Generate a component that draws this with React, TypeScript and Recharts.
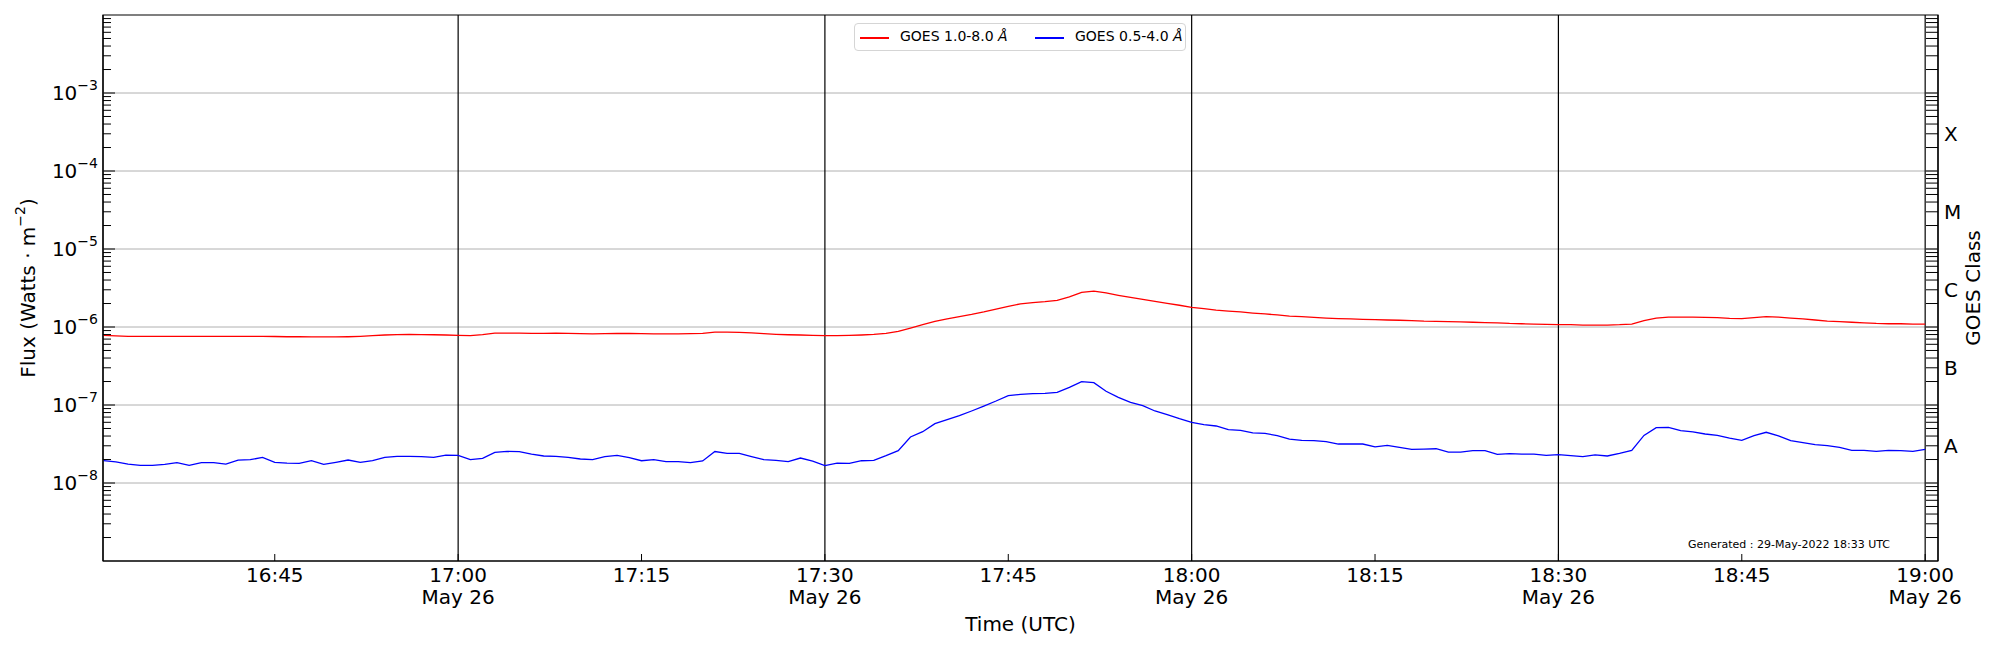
import {
  ComposedChart,
  Legend,
  Line,
  ReferenceArea,
  ReferenceLine,
  XAxis,
  YAxis,
} from "recharts";

// one sample per minute, first one at 16:31 UTC (minutes relative to 17:00)
const START_MINUTE = -29;

// GOES 1.0-8.0 Å, in units of 1e-7 W/m²
const longFlux = [
  7.8, 7.7, 7.6, 7.6, 7.6, 7.6, 7.6, 7.6, 7.6, 7.6,
  7.6, 7.6, 7.6, 7.6, 7.55, 7.5, 7.5, 7.45, 7.45, 7.45,
  7.5, 7.6, 7.75, 7.9, 8.0, 8.05, 8.0, 7.95, 7.9, 7.8,
  7.75, 8.0, 8.35, 8.35, 8.35, 8.3, 8.3, 8.35, 8.3, 8.2,
  8.15, 8.2, 8.3, 8.25, 8.2, 8.15, 8.15, 8.15, 8.2, 8.3,
  8.6, 8.6, 8.55, 8.4, 8.2, 8.05, 7.95, 7.9, 7.8, 7.75,
  7.75, 7.8, 7.9, 8.05, 8.3, 8.8, 9.7, 10.7, 11.8, 12.7,
  13.6, 14.5, 15.6, 17.0, 18.4, 19.8, 20.5, 21.1, 22.0, 24.3,
  27.8, 28.9, 27.3, 25.5, 24.0, 22.6, 21.3, 20.1, 19.0, 17.9,
  17.2, 16.5, 16.0, 15.6, 15.1, 14.7, 14.3, 13.8, 13.6, 13.3,
  13.0, 12.8, 12.7, 12.5, 12.4, 12.3, 12.2, 12.1, 11.9, 11.8,
  11.7, 11.6, 11.5, 11.4, 11.3, 11.1, 11.0, 10.9, 10.8, 10.7,
  10.7, 10.6, 10.6, 10.6, 10.7, 10.9, 12.1, 13.0, 13.4, 13.4,
  13.4, 13.3, 13.2, 12.9, 12.8, 13.2, 13.6, 13.4, 13.0, 12.7,
  12.3, 11.9, 11.7, 11.5, 11.3, 11.1, 11.0, 11.0, 10.9, 10.9,
];
const LONG_UNIT = 1e-7;

// GOES 0.5-4.0 Å, in units of 1e-8 W/m²
const shortFlux = [
  1.93, 1.86, 1.75, 1.68, 1.68, 1.73, 1.82, 1.68, 1.82, 1.82,
  1.75, 1.97, 1.99, 2.13, 1.84, 1.8, 1.79, 1.93, 1.73, 1.84,
  1.97, 1.84, 1.93, 2.13, 2.2, 2.2, 2.18, 2.13, 2.28, 2.26,
  1.99, 2.07, 2.47, 2.54, 2.52, 2.35, 2.22, 2.2, 2.13, 2.03,
  1.99, 2.18, 2.26, 2.11, 1.93, 1.99, 1.88, 1.88, 1.82, 1.92,
  2.53, 2.4, 2.4, 2.18, 1.99, 1.95, 1.88, 2.09, 1.91, 1.67,
  1.8, 1.79, 1.93, 1.95, 2.24, 2.6, 3.89, 4.55, 5.76, 6.49,
  7.3, 8.38, 9.7, 11.25, 13.2, 13.7, 14.0, 14.1, 14.5, 16.8,
  19.9, 19.3, 15.0, 12.5, 10.8, 9.8, 8.38, 7.52, 6.68, 6.0,
  5.6, 5.38, 4.83, 4.73, 4.38, 4.33, 4.04, 3.66, 3.52, 3.49,
  3.4, 3.16, 3.16, 3.16, 2.9, 3.04, 2.86, 2.7, 2.72, 2.75,
  2.49, 2.49, 2.6, 2.6, 2.33, 2.38, 2.35, 2.35, 2.26, 2.31,
  2.24, 2.18, 2.29, 2.22, 2.4, 2.62, 4.08, 5.12, 5.18, 4.69,
  4.51, 4.25, 4.08, 3.77, 3.52, 4.04, 4.47, 4.01, 3.49, 3.29,
  3.1, 3.01, 2.86, 2.62, 2.62, 2.55, 2.62, 2.6, 2.55, 2.7,
];
const SHORT_UNIT = 1e-8;

const xDomain = [-29.05, 121.05];
const xTicks = [-15, 0, 15, 30, 45, 60, 75, 90, 105, 120];
const xTickLabels = [
  "16:45", "17:00", "17:15", "17:30", "17:45",
  "18:00", "18:15", "18:30", "18:45", "19:00",
];
const halfHours = [0, 30, 60, 90, 120];
const dateLabel = "May 26";

const yDomain = [1e-9, 1e-2];
const decades = [1e-8, 1e-7, 1e-6, 1e-5, 1e-4, 1e-3];
const decadeExponents = [-8, -7, -6, -5, -4, -3];
const minorSteps = [2, 3, 4, 5, 6, 7, 8, 9];
const minorBases = [1e-9, 1e-8, 1e-7, 1e-6, 1e-5, 1e-4, 1e-3];

const classLevels = [3e-8, 3e-7, 3e-6, 3e-5, 3e-4];
const classLabels = ["A", "B", "C", "M", "X"];

const legendItems = [
  { label: "GOES 1.0-8.0 ", color: "#ff0000" },
  { label: "GOES 0.5-4.0 ", color: "#0000ff" },
];
const generatedNote = "Generated : 29-May-2022 18:33 UTC";

const FONT = "DejaVu Sans";

const data = longFlux.map((v, i) => ({
  t: START_MINUTE + i,
  long: v * LONG_UNIT,
  short: shortFlux[i] * SHORT_UNIT,
}));

const minorTicks: number[] = [];
minorBases.forEach((b) => minorSteps.forEach((m) => minorTicks.push(m * b)));
const leftTicks = [...decades, ...minorTicks];
const rightTicks = [...decades, ...minorTicks];

function sameValue(a: number, b: number) {
  return Math.abs(a - b) / b < 1e-6;
}

function FluxTick({ x, y, payload }: any) {
  const v = payload.value as number;
  const idx = decades.findIndex((d) => sameValue(v, d));
  if (idx < 0) {
    return <line x1={x} x2={x + 8} y1={y} y2={y} stroke="#000" strokeWidth={1} />;
  }
  return (
    <g>
      <line x1={x} x2={x + 12} y1={y} y2={y} stroke="#000" strokeWidth={1} />
      <text
        x={x - 5}
        y={y + 7}
        textAnchor="end"
        fontSize={20}
        fontFamily={FONT}
        fill="#000"
      >
        10
        <tspan dy={-10} fontSize={14}>
          −{Math.abs(decadeExponents[idx])}
        </tspan>
      </text>
    </g>
  );
}

function ClassTick({ x, y, payload }: any) {
  const v = payload.value as number;
  const idx = classLevels.findIndex((c) => sameValue(v, c));
  return (
    <g>
      <line x1={x - 12} x2={x} y1={y} y2={y} stroke="#000" strokeWidth={1} />
      {idx >= 0 && (
        <text x={x + 6} y={y + 7} fontSize={20} fontFamily={FONT} fill="#000">
          {classLabels[idx]}
        </text>
      )}
    </g>
  );
}

function TimeTick({ x, y, payload }: any) {
  const v = payload.value as number;
  const idx = xTicks.indexOf(v);
  const withDate = halfHours.includes(v);
  return (
    <g>
      <line x1={x} x2={x} y1={y} y2={y - 7} stroke="#000" strokeWidth={1} />
      <text
        x={x}
        y={y + 21}
        textAnchor="middle"
        fontSize={20}
        fontFamily={FONT}
        fill="#000"
      >
        {xTickLabels[idx]}
      </text>
      {withDate && (
        <text
          x={x}
          y={y + 43}
          textAnchor="middle"
          fontSize={20}
          fontFamily={FONT}
          fill="#000"
        >
          {dateLabel}
        </text>
      )}
    </g>
  );
}

function FluxLabel({ viewBox }: any) {
  const cx = viewBox.x + 28;
  const cy = viewBox.y + viewBox.height / 2;
  return (
    <text
      x={cx}
      y={cy}
      transform={`rotate(-90 ${cx} ${cy})`}
      textAnchor="middle"
      dominantBaseline="central"
      fontSize={20}
      fontFamily={FONT}
      fill="#000"
    >
      Flux (Watts · m
      <tspan dy={-8} fontSize={14}>
        −2
      </tspan>
      <tspan dy={8}>)</tspan>
    </text>
  );
}

function ClassLabel({ viewBox }: any) {
  const cx = viewBox.x + 35;
  const cy = viewBox.y + viewBox.height / 2;
  return (
    <text
      x={cx}
      y={cy}
      transform={`rotate(-90 ${cx} ${cy})`}
      textAnchor="middle"
      dominantBaseline="central"
      fontSize={20}
      fontFamily={FONT}
      fill="#000"
    >
      GOES Class
    </text>
  );
}

function TimeLabel({ viewBox }: any) {
  const right = viewBox.x + viewBox.width;
  return (
    <g>
      <text
        x={viewBox.x + viewBox.width / 2}
        y={viewBox.y + 70}
        textAnchor="middle"
        fontSize={20}
        fontFamily={FONT}
        fill="#000"
      >
        Time (UTC)
      </text>
      <text
        x={right - 250}
        y={viewBox.y - 13}
        fontSize={11}
        fontFamily={FONT}
        fill="#000"
      >
        {generatedNote}
      </text>
    </g>
  );
}

function LegendBox() {
  return (
    <div
      style={{
        position: "relative",
        width: 332,
        height: 28,
        boxSizing: "border-box",
        border: "1px solid #d5d5d5",
        borderRadius: 4,
        background: "#fff",
        fontFamily: FONT,
        fontSize: 14,
      }}
    >
      {legendItems.map((item, i) => (
        <div key={item.label}>
          <span
            style={{
              position: "absolute",
              left: 5 + i * 175,
              top: 13,
              width: 29,
              height: 1.5,
              background: item.color,
            }}
          />
          <span
            style={{
              position: "absolute",
              left: 45 + i * 175,
              top: 4,
              whiteSpace: "nowrap",
              color: "#000",
            }}
          >
            {item.label}
            <i>Å</i>
          </span>
        </div>
      ))}
    </div>
  );
}

export default function App() {
  return (
    <div
      style={{
        position: "absolute",
        left: 0,
        top: 0,
        width: 2000,
        height: 650,
        background: "#fff",
        fontFamily: FONT,
      }}
    >
      <ComposedChart
        width={2000}
        height={650}
        data={data}
        margin={{ top: 15, right: 0, bottom: 0, left: 0 }}
      >
        <XAxis
          dataKey="t"
          type="number"
          domain={xDomain}
          allowDataOverflow
          ticks={xTicks}
          interval={0}
          tickSize={0}
          tickMargin={0}
          tickLine={false}
          tick={<TimeTick />}
          height={89}
          axisLine={{ stroke: "#000", strokeWidth: 1.2 }}
          label={<TimeLabel />}
        />
        <YAxis
          yAxisId="flux"
          type="number"
          scale="log"
          domain={yDomain}
          allowDataOverflow
          ticks={leftTicks}
          interval={0}
          tickSize={0}
          tickMargin={0}
          tickLine={false}
          tick={<FluxTick />}
          width={103}
          axisLine={{ stroke: "#000", strokeWidth: 1.2 }}
          label={<FluxLabel />}
        />
        <YAxis
          yAxisId="class"
          orientation="right"
          type="number"
          scale="log"
          domain={yDomain}
          allowDataOverflow
          ticks={rightTicks}
          interval={0}
          tickSize={0}
          tickMargin={0}
          tickLine={false}
          tick={<ClassTick />}
          width={62}
          axisLine={{ stroke: "#000", strokeWidth: 1.2 }}
          label={<ClassLabel />}
        />
        {decades.map((d) => (
          <ReferenceLine
            key={`h${d}`}
            yAxisId="flux"
            y={d}
            stroke="#b0b0b0"
            strokeWidth={1}
          />
        ))}
        {halfHours.map((m) => (
          <ReferenceLine
            key={`v${m}`}
            yAxisId="flux"
            x={m}
            stroke="#000"
            strokeWidth={1.2}
          />
        ))}
        <ReferenceArea
          yAxisId="flux"
          x1={xDomain[0]}
          x2={xDomain[1]}
          y1={yDomain[0]}
          y2={yDomain[1]}
          fill="none"
          stroke="#000"
          strokeWidth={1.2}
          ifOverflow="visible"
        />
        <Line
          yAxisId="flux"
          dataKey="long"
          type="linear"
          stroke="#ff0000"
          strokeWidth={1.3}
          dot={false}
          isAnimationActive={false}
        />
        <Line
          yAxisId="flux"
          dataKey="short"
          type="linear"
          stroke="#0000ff"
          strokeWidth={1.3}
          dot={false}
          isAnimationActive={false}
        />
        <Line
          yAxisId="class"
          dataKey="short"
          type="linear"
          stroke="none"
          dot={false}
          legendType="none"
          isAnimationActive={false}
        />
        <Legend
          layout="horizontal"
          verticalAlign="middle"
          align="center"
          wrapperStyle={{ left: 854, top: 23, width: 332, height: 28 }}
          content={() => <LegendBox />}
        />
      </ComposedChart>
    </div>
  );
}
